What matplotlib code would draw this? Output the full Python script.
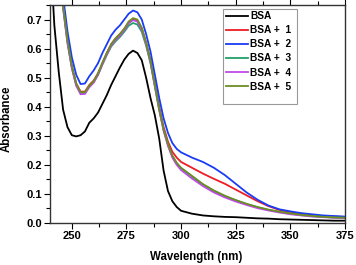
import matplotlib
matplotlib.use('Agg')
import matplotlib.pyplot as plt
from matplotlib.ticker import MultipleLocator
from matplotlib.patches import Rectangle

plt.rcParams['font.family'] = ['Liberation Sans', 'DejaVu Sans']
plt.rcParams['font.weight'] = 'bold'

# wavelength grid (nm)
wl = [240, 242, 244, 246, 248, 250, 252, 254, 256, 258, 260, 262, 264, 266, 268,
      270, 272, 274, 276, 278, 280, 282, 284, 286, 288, 290, 292, 294, 296, 298,
      300, 305, 310, 315, 320, 325, 330, 335, 340, 345, 350, 355, 360, 365, 370, 375]

bsa = [0.95, 0.68, 0.52, 0.39, 0.33, 0.302, 0.298, 0.302, 0.315, 0.345, 0.36, 0.38,
       0.41, 0.44, 0.475, 0.505, 0.535, 0.562, 0.582, 0.593, 0.585, 0.56, 0.50, 0.43,
       0.37, 0.29, 0.18, 0.11, 0.075, 0.055, 0.042, 0.032, 0.026, 0.023, 0.021, 0.020,
       0.018, 0.016, 0.015, 0.013, 0.012, 0.011, 0.010, 0.009, 0.008, 0.008]

bsa1 = [1.1, 1.0, 0.92, 0.75, 0.63, 0.54, 0.48, 0.452, 0.452, 0.475, 0.49, 0.515,
        0.55, 0.585, 0.615, 0.635, 0.65, 0.668, 0.69, 0.70, 0.695, 0.67, 0.62, 0.56,
        0.48, 0.40, 0.33, 0.28, 0.245, 0.225, 0.21, 0.19, 0.17, 0.152, 0.135, 0.115,
        0.095, 0.075, 0.058, 0.045, 0.037, 0.031, 0.027, 0.024, 0.022, 0.021]

bsa2 = [1.1, 1.0, 0.95, 0.78, 0.66, 0.57, 0.51, 0.478, 0.48, 0.505, 0.525, 0.55,
        0.585, 0.615, 0.645, 0.665, 0.68, 0.70, 0.72, 0.731, 0.725, 0.70, 0.65, 0.59,
        0.51, 0.43, 0.36, 0.31, 0.275, 0.255, 0.243, 0.225, 0.21, 0.19, 0.165, 0.135,
        0.105, 0.08, 0.06, 0.047, 0.040, 0.034, 0.030, 0.026, 0.024, 0.022]

bsa3 = [1.1, 1.0, 0.92, 0.74, 0.62, 0.535, 0.475, 0.447, 0.448, 0.47, 0.485, 0.51,
        0.545, 0.578, 0.607, 0.625, 0.64, 0.658, 0.679, 0.688, 0.683, 0.658, 0.61, 0.55,
        0.47, 0.39, 0.32, 0.27, 0.23, 0.205, 0.188, 0.16, 0.132, 0.11, 0.092, 0.078,
        0.065, 0.054, 0.045, 0.038, 0.032, 0.027, 0.024, 0.021, 0.019, 0.018]

bsa4 = [1.1, 1.0, 0.92, 0.74, 0.62, 0.532, 0.472, 0.443, 0.444, 0.467, 0.483, 0.51,
        0.547, 0.58, 0.61, 0.63, 0.645, 0.663, 0.687, 0.698, 0.693, 0.665, 0.615, 0.553,
        0.47, 0.388, 0.317, 0.265, 0.225, 0.2, 0.182, 0.153, 0.127, 0.105, 0.088, 0.074,
        0.062, 0.051, 0.043, 0.036, 0.030, 0.026, 0.022, 0.020, 0.018, 0.017]

bsa5 = [1.1, 1.0, 0.93, 0.75, 0.63, 0.54, 0.48, 0.45, 0.45, 0.472, 0.488, 0.515,
        0.552, 0.585, 0.615, 0.635, 0.65, 0.668, 0.693, 0.705, 0.70, 0.672, 0.62, 0.558,
        0.475, 0.392, 0.322, 0.272, 0.232, 0.207, 0.19, 0.162, 0.134, 0.112, 0.094, 0.079,
        0.066, 0.055, 0.046, 0.039, 0.033, 0.028, 0.024, 0.021, 0.019, 0.018]

labels = ['BSA', 'BSA +  1', 'BSA +  2', 'BSA +  3', 'BSA +  4', 'BSA +  5']
colors = ['black', '#ee1c25', '#1a3cf5', '#22a06b', '#c04ae8', '#6b8e23']
series = [bsa, bsa1, bsa2, bsa3, bsa4, bsa5]

fig = plt.figure(figsize=(3.56, 2.65), dpi=100)
ax = fig.add_axes([0.1404, 0.1585, 0.8286, 0.8226])

for y, c, lab in zip(series, colors, labels):
    ax.plot(wl, y, color=c, lw=1.3, label=lab)

ax.set_xlim(240, 375)
ax.set_ylim(0, 0.75)
ax.set_xticks([250, 275, 300, 325, 350, 375])
ax.xaxis.set_minor_locator(MultipleLocator(12.5))
ax.set_yticks([0.0, 0.1, 0.2, 0.3, 0.4, 0.5, 0.6, 0.7])
ax.set_yticklabels(['0.0', '0.1', '0.2', '0.3', '0.4', '0.5', '0.6', '0.7'])
ax.yaxis.set_minor_locator(MultipleLocator(0.05))

ax.tick_params(axis='both', which='major', labelsize=8, length=4, width=0.8, pad=2)
ax.tick_params(axis='both', which='minor', length=3, width=0.8)
ax.tick_params(axis='x', which='both', top=True, direction='out', labeltop=False)
for t in ax.get_xticklabels() + ax.get_yticklabels():
    t.set_fontweight('bold')

for s in ax.spines.values():
    s.set_linewidth(1.0)
    s.set_color('#333333')

ax.set_xlabel('Wavelength (nm)', fontsize=8.3, fontweight='bold')
ax.set_ylabel('Absorbance', fontsize=8.3, fontweight='bold')
ax.xaxis.set_label_coords(0.495, -0.13)
ax.yaxis.set_label_coords(-0.126, 0.477)

# legend frame drawn by hand (it has extra room at the bottom)
ax.add_patch(Rectangle((0.5864, 0.5459), 0.2499, 0.4341, transform=ax.transAxes,
                       facecolor='white', edgecolor='#999999', lw=0.8, zorder=4))
leg = ax.legend(loc='upper left', bbox_to_anchor=(0.588, 0.985), fontsize=7.3,
                handlelength=2.15, handletextpad=0.2, labelspacing=0.4,
                borderpad=0.3, frameon=False, borderaxespad=0)
leg.set_zorder(5)
for t in leg.get_texts():
    t.set_fontweight('bold')

plt.savefig('out.png', dpi=100)
